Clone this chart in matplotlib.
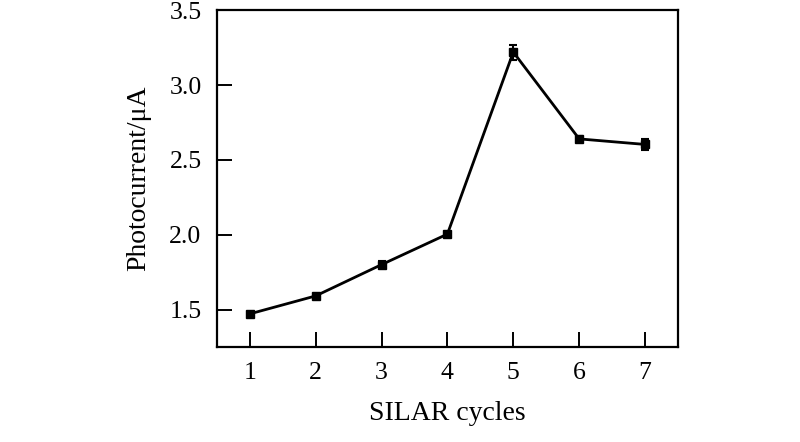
import numpy as np
import matplotlib
matplotlib.use('Agg')
import matplotlib.pyplot as plt

# -- 数据 ----------------------
cycles = [1, 2, 3, 4, 5, 6, 7]
current = [1.471, 1.591, 1.800, 2.004, 3.22, 2.64, 2.603]
error = [0.012, 0.010, 0.022, 0.015, 0.050, 0.020, 0.035]

plt.rcParams['font.family'] = ['Liberation Serif', 'DejaVu Serif']


def main():
    fig = plt.figure(figsize=(8, 4.42), dpi=100)
    ax = fig.add_axes([0.271, 0.215, 0.5765, 0.762])

    ax.errorbar(cycles, current, yerr=error, color='black', lw=2,
                marker='s', ms=6, capsize=3, capthick=1.5, elinewidth=1.5)

    ax.set_xlim(0.5, 7.5)
    ax.set_ylim(1.25, 3.5)
    ax.set_xticks(cycles)
    ax.set_yticks([1.5, 2.0, 2.5, 3.0, 3.5])
    ax.tick_params(direction='in', length=11, width=1.4, labelsize=18.5)
    ax.tick_params(axis='x', pad=11)
    ax.tick_params(axis='y', pad=11)
    for s in ax.spines.values():
        s.set_linewidth(1.6)

    ax.set_xlabel('SILAR cycles', fontsize=20, labelpad=12)
    ax.set_ylabel('Photocurrent/\u03bcA', fontsize=20, labelpad=13)

    fig.savefig('out.png', dpi=100)


main()
